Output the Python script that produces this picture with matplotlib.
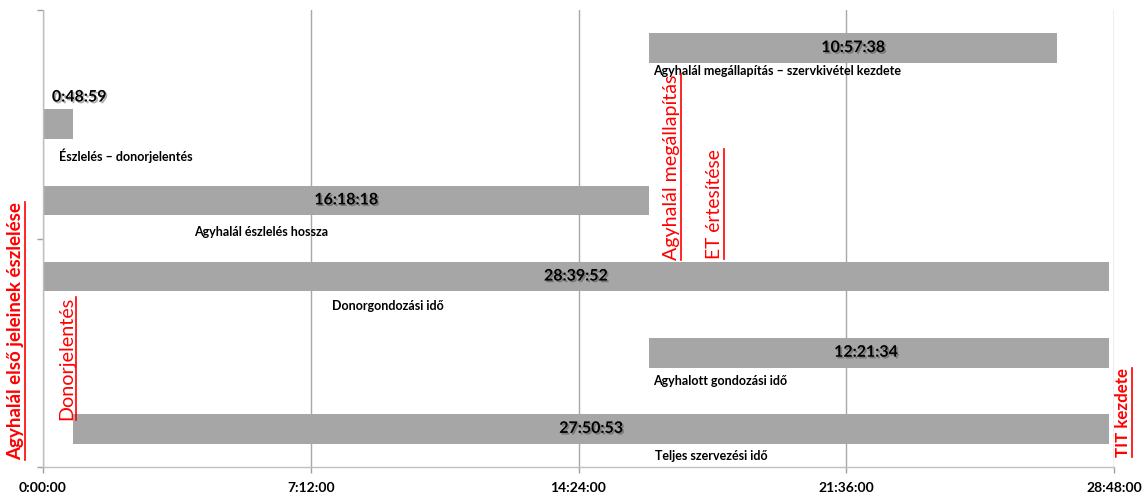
import numpy as np
import matplotlib
matplotlib.use("Agg")
import matplotlib.pyplot as plt
import matplotlib.patheffects as pe
from matplotlib.ticker import FuncFormatter

plt.rcParams['font.family'] = ['Lato', 'DejaVu Sans']

# adatok (óra:perc:másodperc)
names = ["Agyhalál megállapítás – szervkivétel kezdete",
         "Észlelés – donorjelentés",
         "Agyhalál észlelés hossza",
         "Donorgondozási idő",
         "Agyhalott gondozási idő",
         "Teljes szervezési idő"]
starts = ["16:18:18", "0:00:00", "0:00:00", "0:00:00", "16:18:18", "0:48:59"]
durations = ["10:57:38", "0:48:59", "16:18:18", "28:39:52", "12:21:34", "27:50:53"]

events = ["Agyhalál első jeleinek észlelése", "Donorjelentés",
          "Agyhalál megállapítás", "ET értesítése", "TIT kezdete"]


def to_hours(s):
    h, m, sec = [int(v) for v in s.split(":")]
    return h + m / 60 + sec / 3600


start_h = np.array([to_hours(s) for s in starts])
dur_h = np.array([to_hours(s) for s in durations])
y = np.arange(len(names))

fig = plt.figure(figsize=(11.46, 4.97), dpi=100)
ax = fig.add_axes([43 / 1146, 30 / 497, 1071 / 1146, 457 / 497])

ax.barh(y, dur_h, left=start_h, height=0.39, color='#a6a6a6', zorder=2)

ax.set_xlim(0, 28.8)
ax.set_ylim(5.5, -0.5)
ax.set_xticks(np.arange(0, 28.81, 7.2))
ax.xaxis.set_major_formatter(FuncFormatter(
    lambda v, p: "%d:%02d:00" % (int(round(v * 60)) // 60, int(round(v * 60)) % 60)))
ax.set_yticks([-0.5, 2.5, 5.5])
ax.set_yticklabels([])
ax.grid(axis='x', color='#a8a8a8', linewidth=1, zorder=0)
ax.set_axisbelow(True)
for side in ['top', 'right']:
    ax.spines[side].set_visible(False)
for side in ['left', 'bottom']:
    ax.spines[side].set_color('#bfbfbf')
    ax.spines[side].set_linewidth(1)
ax.tick_params(axis='both', color='#a0a0a0', length=4, width=1)
ax.tick_params(axis='x', pad=7, labelsize=10)
for lab in ax.get_xticklabels():
    lab.set_fontweight('bold')

shadow = [pe.withSimplePatchShadow(offset=(1.2, -1.2), shadow_rgbFace='#333333', alpha=0.4)]

# értékcímkék
for i in range(len(names)):
    if dur_h[i] < 2:
        ax.text(0.24, y[i] - 0.35, durations[i], ha='left', va='center',
                fontsize=11.5, fontweight='bold', path_effects=shadow, zorder=4)
    else:
        nudge = -0.35 if i == 4 else 0
        ax.text(start_h[i] + dur_h[i] / 2 + nudge, y[i], durations[i], ha='center',
                va='center', fontsize=11.5, fontweight='bold', path_effects=shadow, zorder=4)

# megnevezések a sávok alatt
name_x = [16.4, 0.43, 4.06, 7.77, 16.4, 16.46]
name_dy = [0.30, 0.41, 0.42, 0.39, 0.37, 0.35]
for i in range(len(names)):
    ax.text(name_x[i], y[i] + name_dy[i], names[i], ha='left', va='center',
            fontsize=9, fontweight='bold', zorder=4)

# események, függőleges aláhúzott piros feliratok
ev_x = [-0.73, 0.64, 16.9, 18.06, 29.04]
ev_bottom = [5.41, 4.88, 2.78, 2.77, 5.37]
ev_weight = ['bold', 'normal', 'normal', 'normal', 'bold']
ev_size = [13.5, 14.2, 14.1, 13.9, 12.2]
ev_texts = []
for i in range(len(events)):
    t = ax.text(ev_x[i], ev_bottom[i], events[i], rotation=90, ha='center', va='bottom',
                color='#ff0000', fontsize=ev_size[i], fontweight=ev_weight[i],
                clip_on=False, zorder=5)
    ev_texts.append(t)

fig.canvas.draw()
r = fig.canvas.get_renderer()
inv = ax.transData.inverted()
for t in ev_texts:
    bb = t.get_window_extent(r)
    (x1, y0), (_, y1) = inv.transform([(bb.x1 + 1, bb.y0), (bb.x1 + 1, bb.y1)])
    ax.plot([x1, x1], [y0, y1], color='#ff0000', linewidth=1.2, clip_on=False, zorder=5)

fig.savefig('out.png', dpi=100)
